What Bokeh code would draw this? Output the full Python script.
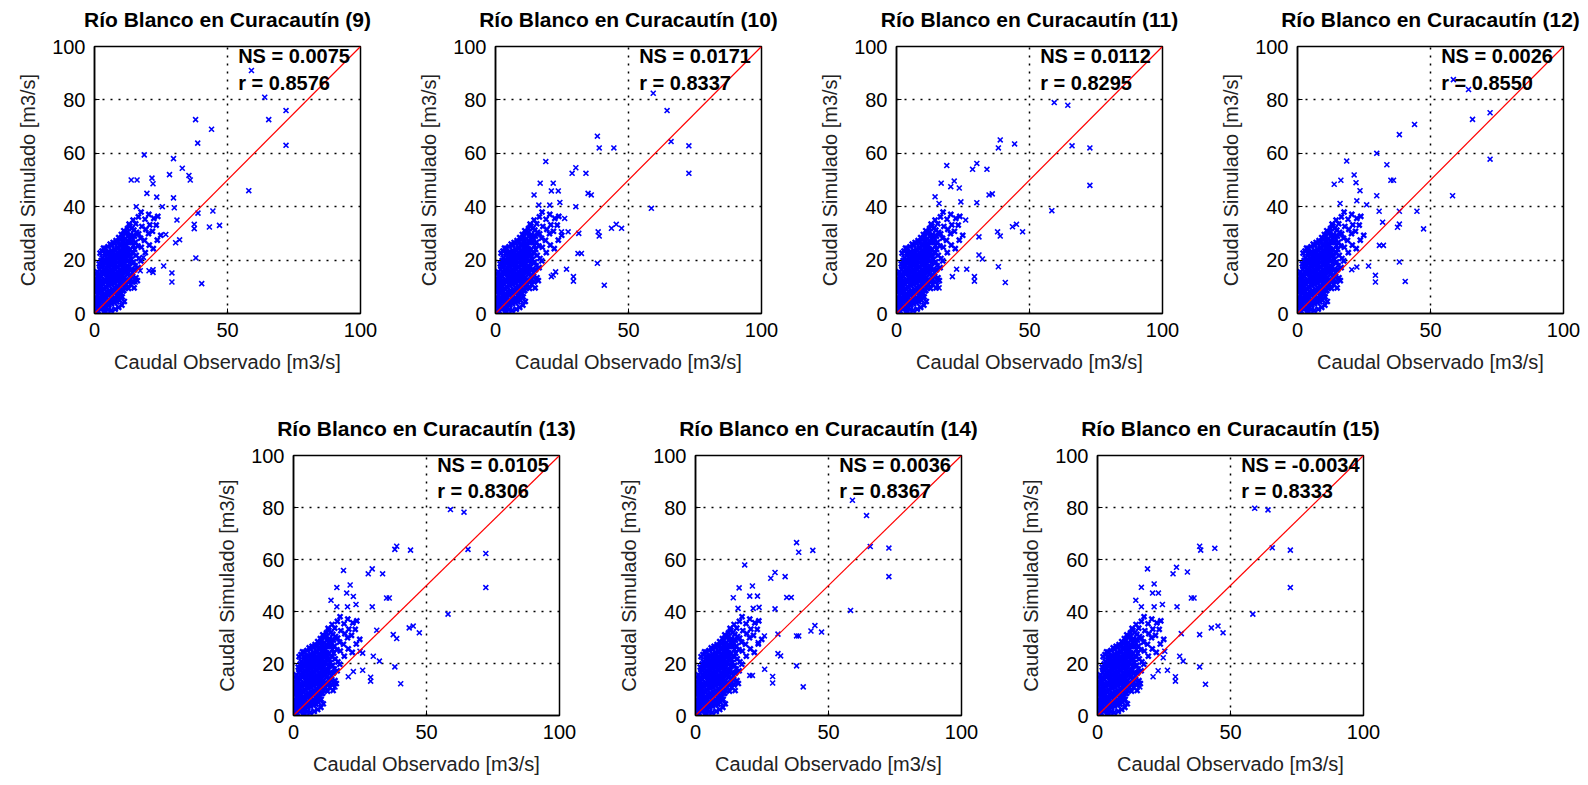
from bokeh.plotting import figure
from bokeh.layouts import column, row, Spacer
from bokeh.models import FixedTicker, Range1d, Title
from bokeh.core.properties import value
from bokeh.embed import file_html
from bokeh.resources import INLINE

panel_ids = [9, 10, 11, 12, 13, 14, 15]
ns_values = [0.0075, 0.0171, 0.0112, 0.0026, 0.0105, 0.0036, -0.0034]
r_values = [0.8576, 0.8337, 0.8295, 0.8550, 0.8306, 0.8367, 0.8333]
x_ticks = [0, 50, 100]
y_ticks = [0, 20, 40, 60, 80, 100]
one_to_one = [0, 100]

# dense low-flow cluster (shared by all panels), (observed, simulated)
cluster_points = [
    (0.3, 1.2), (0.5, 2.8), (0.4, 4.5), (0.6, 6.1), (0.3, 7.9), (0.7, 9.6), (0.5, 11.2), (0.8, 12.9), (0.2, 3.6),
    (1.4, 0.8), (1.6, 2.4), (1.3, 4.1), (1.7, 5.9), (1.5, 7.6), (1.2, 9.3), (1.8, 11.0), (1.4, 12.7), (1.6, 14.5),
    (2.4, 1.5), (2.6, 3.2), (2.3, 5.0), (2.7, 6.8), (2.5, 8.5), (2.2, 10.3), (2.8, 12.1), (2.4, 13.9), (2.6, 15.6),
    (2.3, 17.4), (2.5, 19.8), (2.1, 22.6),
    (3.4, 2.1), (3.6, 3.9), (3.3, 5.7), (3.7, 7.4), (3.5, 9.2), (3.2, 11.0), (3.8, 12.8), (3.4, 14.6), (3.6, 16.3),
    (3.3, 18.1), (3.7, 20.2), (3.4, 24.5),
    (4.4, 2.6), (4.6, 4.3), (4.3, 6.2), (4.7, 8.0), (4.5, 9.8), (4.2, 11.6), (4.8, 13.4), (4.4, 15.2), (4.6, 17.0),
    (4.3, 18.8), (4.7, 20.6), (4.5, 22.5),
    (5.4, 3.1), (5.6, 5.0), (5.3, 6.8), (5.7, 8.6), (5.5, 10.4), (5.2, 12.2), (5.8, 14.0), (5.4, 15.8), (5.6, 17.6),
    (5.3, 19.4), (5.7, 21.2), (5.5, 23.1),
    (6.4, 3.6), (6.6, 5.5), (6.3, 7.3), (6.7, 9.1), (6.5, 10.9), (6.2, 12.7), (6.8, 14.5), (6.4, 16.3), (6.6, 18.1),
    (6.3, 19.9), (6.7, 21.7), (6.5, 23.6), (6.4, 25.5),
    (7.4, 4.1), (7.6, 6.0), (7.3, 7.8), (7.7, 9.6), (7.5, 11.4), (7.2, 13.2), (7.8, 15.0), (7.4, 16.8), (7.6, 18.6),
    (7.3, 20.4), (7.7, 22.2), (7.5, 24.1), (7.6, 26.3),
    (8.4, 4.4), (8.6, 6.4), (8.3, 8.3), (8.7, 10.1), (8.5, 11.9), (8.2, 13.7), (8.8, 15.5), (8.4, 17.3), (8.6, 19.1),
    (8.3, 20.9), (8.7, 22.7), (8.5, 24.6), (8.4, 26.8),
    (9.4, 5.0), (9.6, 7.2), (9.3, 9.1), (9.7, 10.9), (9.5, 12.7), (9.2, 14.5), (9.8, 16.3), (9.4, 18.1), (9.6, 19.9),
    (9.3, 21.7), (9.7, 23.5), (9.5, 25.4), (9.6, 27.7),
    (10.4, 6.2), (10.6, 8.5), (10.3, 10.4), (10.7, 12.2), (10.5, 14.0), (10.2, 15.8), (10.8, 17.6), (10.4, 19.4),
    (10.6, 21.2), (10.3, 23.0), (10.7, 24.8), (10.5, 26.7), (10.4, 28.6),
    (11.4, 9.8), (11.6, 11.7), (11.3, 13.5), (11.7, 15.3), (11.5, 17.1), (11.2, 18.9), (11.8, 20.7), (11.4, 22.5),
    (11.6, 24.3), (11.3, 26.1), (11.7, 28.0), (11.5, 30.1),
    (12.6, 12.1), (12.3, 14.6), (12.7, 17.0), (12.4, 19.5), (12.6, 21.9), (12.3, 24.2), (12.7, 26.6), (12.5, 29.1),
    (12.4, 31.8),
    (13.4, 13.5), (13.7, 16.2), (13.3, 18.9), (13.6, 21.5), (13.4, 24.0), (13.7, 26.8), (13.5, 29.6), (13.3, 32.7),
    (14.5, 11.8), (14.3, 15.2), (14.7, 19.3), (14.4, 22.6), (14.6, 25.4), (14.2, 28.5), (14.8, 31.2), (14.5, 35.0),
    (15.6, 13.4), (15.3, 17.9), (15.7, 21.8), (15.4, 26.7), (15.8, 30.4), (15.5, 33.6),
    (16.4, 17.2), (16.7, 20.6), (16.3, 25.3), (16.6, 29.8), (16.5, 36.2),
    (17.4, 19.7), (17.6, 24.8), (17.3, 28.2), (17.8, 32.6), (17.5, 38.0),
    (19.1, 22.8), (18.8, 27.4), (19.3, 31.5), (19.0, 35.3),
    (20.6, 25.6), (20.3, 29.9), (20.8, 33.2), (20.4, 37.1),
    (22.1, 24.3), (21.8, 30.8), (22.3, 35.6),
    (23.6, 27.5), (23.2, 33.1), (23.8, 36.4), (24.9, 29.3),
    (6.2, 1.1), (7.8, 1.6), (9.1, 2.3), (10.3, 3.1), (11.2, 4.5), (5.1, 1.4), (3.9, 0.9),
    (12.8, 9.4), (13.6, 10.8), (14.9, 9.6), (16.1, 12.3),
    (1.0, 1.9), (0.9, 5.3), (1.1, 8.6), (0.9, 10.4), (1.2, 13.8), (1.0, 15.6),
    (2.0, 2.3), (1.9, 6.0), (2.1, 9.4), (1.9, 12.9), (2.0, 16.5), (1.8, 18.6), (2.9, 20.8),
    (3.0, 4.7), (2.9, 8.1), (3.1, 11.9), (2.9, 15.3), (3.1, 19.0), (2.8, 23.4), (3.9, 22.6),
    (4.0, 5.2), (3.9, 9.1), (4.1, 12.5), (3.9, 16.4), (4.1, 20.0), (4.0, 24.3),
    (5.0, 3.8), (4.9, 7.3), (5.1, 11.0), (4.9, 14.7), (5.1, 18.2), (5.0, 21.9), (5.1, 25.0),
    (6.0, 4.6), (5.9, 8.2), (6.1, 11.8), (5.9, 15.4), (6.1, 19.0), (6.0, 22.8), (5.9, 26.0),
    (7.0, 5.2), (6.9, 8.6), (7.1, 12.1), (6.9, 15.7), (7.1, 19.3), (7.0, 23.0), (7.0, 26.6),
    (8.0, 5.4), (7.9, 9.3), (8.1, 12.8), (7.9, 16.4), (8.1, 20.0), (8.0, 23.6), (8.1, 27.3),
    (9.0, 6.6), (8.9, 10.2), (9.1, 13.8), (8.9, 17.4), (9.1, 21.0), (9.0, 24.6), (9.1, 28.4),
    (10.0, 7.4), (9.9, 11.5), (10.1, 15.1), (9.9, 18.7), (10.1, 22.3), (10.0, 26.0), (10.1, 29.6),
    (11.0, 8.6), (10.9, 12.9), (11.1, 16.4), (10.9, 20.0), (11.1, 23.6), (11.0, 27.2), (11.0, 31.0),
    (12.0, 10.9), (12.1, 15.8), (11.9, 20.6), (12.1, 25.4), (12.0, 30.2),
    (13.0, 12.5), (13.1, 17.6), (12.9, 22.8), (13.1, 28.0), (13.0, 33.5),
    (14.0, 14.0), (13.9, 20.3), (14.1, 26.6), (14.0, 31.9),
    (15.0, 16.4), (15.1, 24.0), (15.0, 29.0),
]
obs_cluster = [p[0] for p in cluster_points]
sim_cluster = [p[1] for p in cluster_points]

# high-flow points for each panel
obs_9 = [59, 64, 72, 65.5, 72, 58, 38, 44, 38.8, 18.7, 29.7, 28.2, 33, 35.5, 36, 13.8, 16, 21.6, 22, 19.7, 23.4,
         29.7, 25.5, 15.7, 30, 38.9, 44.5, 37.5, 37.5, 43.2, 47, 31, 32, 30.5, 26.8, 38.1, 26, 29.1, 29.1, 40.3,
         22, 20.5, 22, 17.2, 15.3, 18.4]
sim_9 = [91, 81, 76, 72.6, 63, 46, 72.6, 69, 63.8, 59.4, 58, 52, 54.4, 51.7, 50, 50, 50, 50.7, 48.6, 45, 43.6,
         43.3, 40, 40, 39.6, 37.6, 38.4, 33.4, 31.8, 32.4, 33, 35, 27.6, 26.5, 29.6, 20.8, 17.8, 15.2, 11.8, 11.2,
         16.4, 16, 15.4, 16, 11.8, 21]
obs_10 = [59.3, 64.5, 66, 72.7, 72.7, 58.6, 38.3, 39, 44.5, 18.9, 30.2, 28.8, 34, 16.8, 21.7, 21, 23.6, 14.5, 16.3,
          20.4, 24.2, 30.2, 34.8, 36, 31.3, 38.6, 39, 43.6, 45.4, 47.4, 31, 32.3, 38.3, 40.9, 26.7, 29.3, 29.3,
          21.7, 22.6, 21, 26, 24.8, 27.3]
sim_10 = [82.5, 76, 64.4, 62.8, 52.5, 39.4, 66.4, 62, 62, 56.9, 54.6, 52.5, 52.5, 48.8, 48.8, 45.9, 45.9, 44.4,
          40.6, 40.6, 41.6, 40, 45, 44.4, 30, 30.6, 29, 31.9, 33.4, 31.9, 22.5, 22.5, 18.8, 10.6, 16.6, 13.8, 12.1,
          14.4, 15.6, 13.8, 35.6, 30.6, 30.6]
obs_11 = [59.3, 64.4, 66, 72.7, 72.7, 58.4, 39, 38.3, 44.4, 18.9, 30.2, 28.6, 34, 16.8, 21.7, 20.4, 23.6, 14.5, 16,
          24.2, 30.2, 34.8, 36, 31, 38, 39, 43.6, 45.1, 47.4, 31, 32.3, 38.3, 40.9, 26.4, 29.3, 29.3, 21, 22.6,
          15.4, 16, 26]
sim_11 = [79, 78, 62.8, 62, 48, 38.5, 65, 62, 63.5, 55.4, 56.2, 54, 54, 48.8, 49.6, 47.5, 47, 43.7, 41.2, 41.8,
          41.5, 44.4, 44.8, 28.7, 30.6, 29, 32.5, 33.4, 30.6, 21.9, 20.4, 17.5, 11.6, 16.6, 13.8, 12.1, 13.8, 16.6,
          10.6, 9.6, 35]
obs_12 = [58.6, 64.3, 65.8, 72.4, 72.4, 58.3, 38.3, 44, 29.8, 33.6, 35.1, 36.1, 18.5, 13.8, 16.3, 21.3, 22, 23.5,
          16, 22.3, 26, 29.8, 30.7, 32, 38.3, 44.9, 47.4, 37.6, 38.3, 30.8, 32.3, 38.3, 40.5, 26.7, 29.3, 29.3,
          20.4, 22.3]
sim_12 = [87.6, 83.9, 72.7, 75.2, 57.8, 44.1, 67, 70.8, 60, 55.7, 49.9, 49.9, 57.1, 48.4, 49.9, 51.9, 49, 46,
          41.2, 42.2, 40.7, 44.1, 38.3, 34.2, 38.3, 38.3, 31.7, 32.3, 33.5, 25.5, 25.5, 19.3, 12, 17.8, 14.3, 11.8,
          16.4, 17.4]
obs_13 = [59, 64.1, 65.6, 72.3, 72.3, 58.1, 38.1, 38.8, 44, 18.8, 29.6, 28.1, 33.5, 16.3, 21.3, 20, 22.5, 14.1,
          16.3, 20.3, 23.5, 29.6, 35, 36, 31.3, 37.5, 38.8, 43.5, 45, 47.3, 30, 32.3, 38.1, 40.3, 26, 29, 29, 20.6,
          22.5, 15.6, 15, 25, 26]
sim_13 = [79.2, 78.2, 63.9, 62.3, 49.2, 39, 63.9, 65.1, 63.6, 55.8, 56.4, 54.5, 54.5, 49.2, 50.2, 47.1, 45.8,
          44.3, 41.8, 41.8, 42.7, 41.8, 45.2, 45.2, 32.8, 31.1, 29.6, 33.7, 34.4, 31.8, 22.8, 20.9, 18.7, 12.2,
          17.4, 14.7, 13.2, 14.9, 16.9, 11, 12.5, 24.7, 24]
obs_14 = [59, 64.3, 65.7, 72.7, 72.7, 58.3, 38, 38.8, 44.1, 18.5, 29.9, 28.3, 33.7, 16.4, 21.4, 20.4, 23.3, 14.2,
          16, 21.7, 23.9, 29.9, 34.3, 36, 31, 38, 38.8, 43.4, 44.9, 47.4, 31, 32, 38, 40.5, 26, 29, 29, 21.4, 20.4,
          25.9, 23.6]
sim_14 = [82.8, 76.9, 65, 64.4, 53.4, 40.4, 66.5, 62.8, 63.5, 57.9, 55, 52.8, 53.4, 49.1, 49.8, 45.9, 45.9, 45.3,
          41.2, 41.2, 41.6, 41, 45.4, 45.4, 31.3, 30.6, 30.6, 32.5, 34.6, 32.1, 23.8, 22.9, 19.1, 11, 17.8, 15,
          12.5, 15.4, 15.4, 30.6, 28.1]
obs_15 = [59.1, 64.1, 65.7, 72.5, 72.5, 58.4, 38.4, 38.8, 44.1, 18.8, 29.7, 28.4, 33.8, 16.5, 21.3, 20.7, 22.9,
          14.4, 16.5, 21.3, 24.4, 29.9, 35.3, 36.3, 31.5, 38.4, 42.8, 45.3, 47.2, 30.9, 32.2, 38.4, 40.6, 26.3,
          29.3, 29.3, 20.9, 22.8, 15.9, 15.9, 25.3, 24.7]
sim_15 = [79.7, 79.1, 64.5, 63.6, 49.2, 39, 65.1, 63.6, 64.3, 56.4, 57, 54.5, 55.2, 49.3, 50.6, 47.1, 47.1, 44.3,
          41.8, 41.8, 42.7, 41.8, 45.2, 45.2, 31.5, 31.1, 33.7, 34.4, 31.8, 22.8, 20.9, 18.7, 12, 17.4, 14.9, 13.2,
          14.9, 17.2, 11, 12.2, 24.7, 22.2]

panel_obs = [obs_9, obs_10, obs_11, obs_12, obs_13, obs_14, obs_15]
panel_sim = [sim_9, sim_10, sim_11, sim_12, sim_13, sim_14, sim_15]

FONT = "Liberation Sans"


def make_panel(k, width, border_right, height, border_bottom):
    p = figure(width=width, height=height,
               x_range=Range1d(0, 100), y_range=Range1d(0, 100),
               output_backend="svg", toolbar_location=None,
               min_border_left=86, min_border_right=border_right,
               min_border_top=46, min_border_bottom=border_bottom)
    p.title.text = "Río Blanco en Curacautín (%d)" % panel_ids[k]
    p.title.align = "center"
    p.title.text_font = FONT
    p.title.text_font_size = "21px"
    p.title.text_font_style = "bold"
    p.title.text_color = "black"
    p.title.standoff = 0
    p.title.padding = 0
    # invisible gap between the title and the plot frame
    p.add_layout(Title(text=" ", text_font_size="12px", standoff=0, padding=0), "above")

    p.xaxis.ticker = FixedTicker(ticks=x_ticks)
    p.yaxis.ticker = FixedTicker(ticks=y_ticks)
    for ax in (p.xaxis, p.yaxis):
        ax.major_label_text_font = FONT
        ax.major_label_text_font_size = "20px"
        ax.major_label_text_color = "black"
        ax.axis_label_text_font = FONT
        ax.axis_label_text_font_size = "20px"
        ax.axis_label_text_font_style = "normal"
        ax.axis_label_text_color = "#222222"
        ax.major_tick_in = 5
        ax.major_tick_out = 0
        ax.minor_tick_line_color = None
        ax.axis_line_color = "black"
        ax.axis_line_width = 1.5
        ax.major_tick_line_color = "black"
    p.xaxis.axis_label = "Caudal Observado [m3/s]"
    p.yaxis.axis_label = "Caudal Simulado [m3/s]"
    p.xaxis.major_label_standoff = 9
    p.yaxis.major_label_standoff = 9
    p.xaxis.axis_label_standoff = 11
    p.yaxis.axis_label_standoff = 10

    p.grid.grid_line_color = "black"
    p.grid.grid_line_dash = "2 6"
    p.grid.grid_line_width = 1.5
    p.outline_line_color = "black"
    p.outline_line_width = 1.5
    p.background_fill_color = "white"
    p.border_fill_color = "white"

    p.scatter(obs_cluster, sim_cluster, marker="x", size=7, line_color="#0000ff", line_width=2.4)
    p.scatter(panel_obs[k], panel_sim[k], marker="x", size=7, line_color="#0000ff", line_width=1.6)
    p.line(one_to_one, one_to_one, line_color="#ff0000", line_width=1.2)

    p.text(x=[54], y=[96.3], text=["NS = %.4f" % ns_values[k]],
           text_font=value(FONT), text_font_size="20px", text_font_style="bold",
           text_color="black", text_baseline="middle")
    p.text(x=[54], y=[86.3], text=["r = %.4f" % r_values[k]],
           text_font=value(FONT), text_font_size="20px", text_font_style="bold",
           text_color="black", text_baseline="middle")
    return p


top = [make_panel(0, 401, 49, 409, 96), make_panel(1, 401, 49, 409, 96),
       make_panel(2, 401, 49, 409, 96), make_panel(3, 376, 24, 409, 96)]
bottom = [make_panel(4, 402, 50, 368, 55), make_panel(5, 402, 50, 368, 55),
          make_panel(6, 402, 50, 368, 55)]

layout = column(
    row(Spacer(width=8, height=409), *top),
    row(Spacer(width=207, height=368), *bottom),
)

with open("out.html", "w") as f:
    f.write(file_html(layout, INLINE))
